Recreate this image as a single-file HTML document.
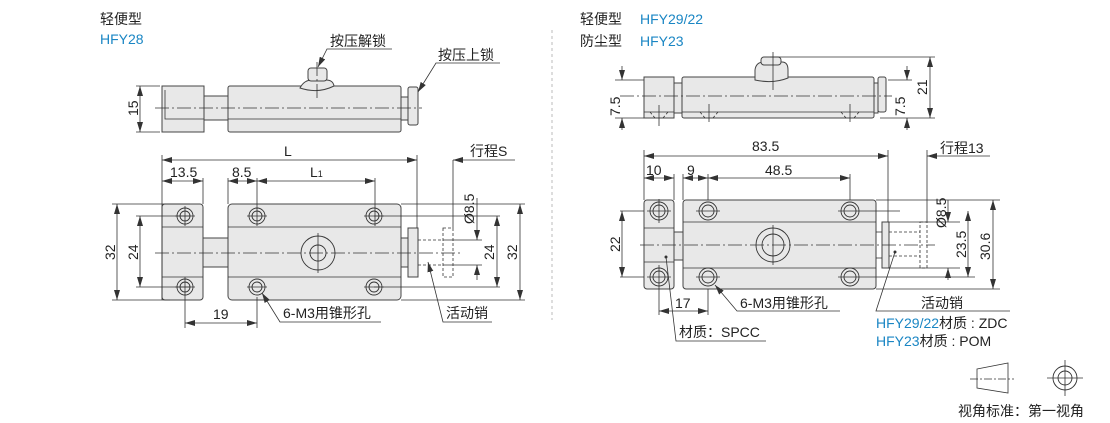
<!DOCTYPE html>
<html><head><meta charset="utf-8"><style>
body{margin:0;background:#fff}
svg{display:block}
text{font-family:"Liberation Sans","Noto Sans CJK SC",sans-serif;font-size:14px;fill:#222}
.b{fill:#1a86c4}
.p{fill:#e8e8e8;stroke:#444;stroke-width:1}
.l{stroke:#333;stroke-width:0.8;fill:none}
.c{stroke:#333;stroke-width:0.8;stroke-dasharray:14 3 2 3;fill:none}
.d{stroke:#333;stroke-width:0.8;stroke-dasharray:3 2;fill:none}
.h{fill:none;stroke:#333;stroke-width:0.9}
</style></head><body>
<svg width="1110" height="423" viewBox="0 0 1110 423">
<defs><marker id="a" viewBox="0 0 10 6" refX="10" refY="3" markerWidth="10" markerHeight="6" orient="auto-start-reverse" markerUnits="userSpaceOnUse"><path d="M0,0L10,3L0,6z" fill="#333"/></marker></defs>

<!-- LEFT -->
<text x="100" y="24">轻便型</text><text x="100" y="44" class="b">HFY28</text>
<!-- top view -->
<rect class="p" x="162" y="86" width="42" height="46"/>
<path class="l" d="M165,90V119H204"/>
<rect class="p" x="204" y="96" width="24" height="24"/>
<rect class="p" x="228" y="86" width="173" height="46" rx="2"/>
<line class="l" x1="228" y1="119" x2="401" y2="119"/>
<path class="p" d="M300,88Q304,80 312,80H326Q333,80 334,86Q318,94 300,88z"/>
<rect class="p" x="308" y="68" width="19" height="13" rx="3"/>
<rect class="p" x="401" y="97" width="7" height="23"/>
<rect class="p" x="408" y="87" width="10" height="38" rx="2"/>
<line class="c" x1="155" y1="108" x2="422" y2="108"/>
<line class="c" x1="317" y1="62" x2="317" y2="98"/>
<line class="l" x1="136" y1="86" x2="160" y2="86"/><line class="l" x1="136" y1="132" x2="160" y2="132"/>
<line class="l" x1="140" y1="86" x2="140" y2="132" marker-start="url(#a)" marker-end="url(#a)"/>
<text transform="translate(138,116) rotate(-90)">15</text>
<text x="330" y="46">按压解锁</text><path class="l" d="M392,49H327L318,67" marker-end="url(#a)"/>
<text x="438" y="60">按压上锁</text><path class="l" d="M500,63H436L418,92" marker-end="url(#a)"/>
<!-- front view -->
<rect class="p" x="162" y="204" width="41" height="96" rx="3"/>
<line class="l" x1="162" y1="227" x2="203" y2="227"/><line class="l" x1="162" y1="277" x2="203" y2="277"/>
<rect class="p" x="203" y="238" width="25" height="29"/>
<rect class="p" x="228" y="204" width="173" height="96" rx="4"/>
<line class="l" x1="228" y1="227" x2="401" y2="227"/><line class="l" x1="228" y1="277" x2="401" y2="277"/>
<rect class="p" x="401" y="238" width="7" height="29"/>
<rect class="p" x="408" y="228" width="10" height="49"/>
<path class="d" d="M418,240H445M418,265H445"/>
<rect class="d" x="443" y="228" width="10" height="49"/>
<g class="h">
<circle cx="185" cy="216" r="8"/><circle cx="185" cy="216" r="5"/>
<circle cx="185" cy="287" r="8"/><circle cx="185" cy="287" r="5"/>
<circle cx="257" cy="216" r="8"/><circle cx="257" cy="216" r="5"/>
<circle cx="257" cy="287" r="8"/><circle cx="257" cy="287" r="5"/>
<circle cx="374" cy="216" r="8"/><circle cx="374" cy="216" r="5"/>
<circle cx="374" cy="287" r="8"/><circle cx="374" cy="287" r="5"/>
<circle cx="318" cy="253" r="17"/><circle cx="318" cy="253" r="8"/>
</g>
<line class="c" x1="155" y1="253" x2="462" y2="253"/>
<path class="l" d="M175,216H195M185,206V226M175,287H195M185,277V297M247,216H267M247,287H267M364,216H384M364,287H384M318,233V273"/>
<!-- dims -->
<path class="l" d="M162,155V300M417,155V228M453,160V228M203,178V204M228,178V204M257,178V226M375,178V226"/>
<line class="l" x1="162" y1="160" x2="417" y2="160" marker-start="url(#a)" marker-end="url(#a)"/>
<text x="284" y="156">L</text>
<line class="l" x1="515" y1="160" x2="453" y2="160" marker-end="url(#a)"/>
<text x="470" y="156">行程S</text>
<line class="l" x1="162" y1="181" x2="203" y2="181" marker-start="url(#a)" marker-end="url(#a)"/><text x="170" y="177">13.5</text>
<line class="l" x1="228" y1="181" x2="257" y2="181" marker-start="url(#a)" marker-end="url(#a)"/><text x="232" y="177">8.5</text>
<line class="l" x1="257" y1="181" x2="375" y2="181" marker-start="url(#a)" marker-end="url(#a)"/><text x="310" y="177">L<tspan font-size="9">1</tspan></text>
<path class="l" d="M112,204H190M112,300H170M136,216H190M136,287H190M401,204H525M401,300H525M374,216H500M374,287H500M445,240H482M445,265H482"/>
<line class="l" x1="117" y1="204" x2="117" y2="300" marker-start="url(#a)" marker-end="url(#a)"/><text transform="translate(115,260) rotate(-90)">32</text>
<line class="l" x1="140" y1="216" x2="140" y2="287" marker-start="url(#a)" marker-end="url(#a)"/><text transform="translate(138,260) rotate(-90)">24</text>
<line class="l" x1="497" y1="216" x2="497" y2="287" marker-start="url(#a)" marker-end="url(#a)"/><text transform="translate(494,260) rotate(-90)">24</text>
<line class="l" x1="520" y1="204" x2="520" y2="300" marker-start="url(#a)" marker-end="url(#a)"/><text transform="translate(517,260) rotate(-90)">32</text>
<line class="l" x1="477" y1="198" x2="477" y2="240" marker-end="url(#a)"/><line class="l" x1="477" y1="280" x2="477" y2="265" marker-end="url(#a)"/>
<text transform="translate(474,224) rotate(-90)">Ø8.5</text>
<path class="l" d="M185,297V328M257,297V328"/>
<line class="l" x1="185" y1="323" x2="257" y2="323" marker-start="url(#a)" marker-end="url(#a)"/><text x="213" y="319">19</text>
<text x="283" y="318">6-M3用锥形孔</text><path class="l" d="M381,322H280L262,293" marker-end="url(#a)"/>
<text x="446" y="318">活动销</text><path class="l" d="M492,322H443L428,262" marker-end="url(#a)"/>

<line x1="552" y1="30" x2="552" y2="320" stroke="#bbb" stroke-dasharray="3 3"/>

<!-- RIGHT -->
<text x="580" y="24">轻便型</text><text x="640" y="24" class="b">HFY29/22</text>
<text x="580" y="46">防尘型</text><text x="640" y="46" class="b">HFY23</text>
<rect class="p" x="644" y="77" width="30" height="41"/>
<line class="l" x1="644" y1="112" x2="674" y2="112"/>
<rect class="p" x="674" y="83" width="8" height="30"/>
<rect class="p" x="682" y="77" width="192" height="41" rx="2"/>
<line class="l" x1="682" y1="112" x2="874" y2="112"/>
<path class="p" d="M755,80V70Q756,62 764,62H782Q788,62 788,70V78Q773,84 755,80z"/>
<rect class="p" x="761" y="57" width="20" height="8" rx="3"/>
<rect class="p" x="874" y="83" width="4" height="30"/>
<rect class="p" x="878" y="77" width="8" height="35" rx="2"/>
<line class="c" x1="620" y1="96" x2="892" y2="96"/>
<path class="l" d="M659,105V126M709,104V122M850,104V122M773,52V90"/>
<path class="d" d="M650,112L655,118M668,112L663,118M700,112L705,118M718,112L713,118M841,112L846,118M859,112L854,118"/>
<path class="l" d="M770,57H935M880,118H935M615,80H644M615,118H644M888,80H912M888,118H912"/>
<line class="l" x1="930" y1="57" x2="930" y2="118" marker-start="url(#a)" marker-end="url(#a)"/><text transform="translate(927,95) rotate(-90)">21</text>
<line class="l" x1="622" y1="66" x2="622" y2="80" marker-end="url(#a)"/><line class="l" x1="622" y1="130" x2="622" y2="118" marker-end="url(#a)"/>
<text transform="translate(620,116) rotate(-90)">7.5</text>
<line class="l" x1="907" y1="66" x2="907" y2="80" marker-end="url(#a)"/><line class="l" x1="907" y1="130" x2="907" y2="118" marker-end="url(#a)"/>
<text transform="translate(905,116) rotate(-90)">7.5</text>
<!-- front -->
<rect class="p" x="644" y="200" width="30" height="89" rx="3"/>
<line class="l" x1="644" y1="228" x2="674" y2="228"/><line class="l" x1="644" y1="262" x2="674" y2="262"/>
<rect class="p" x="674" y="232" width="9" height="28"/>
<rect class="p" x="683" y="200" width="193" height="89" rx="3"/>
<line class="l" x1="683" y1="222" x2="876" y2="222"/><line class="l" x1="683" y1="268" x2="876" y2="268"/>
<rect class="p" x="882" y="222" width="7" height="46"/>
<line class="l" x1="876" y1="232" x2="882" y2="232"/><line class="l" x1="876" y1="258" x2="882" y2="258"/>
<path class="d" d="M889,232H920M889,256H920"/>
<rect class="d" x="920" y="222" width="7" height="46"/>
<g class="h">
<circle cx="659" cy="211" r="9"/><circle cx="659" cy="211" r="6"/>
<circle cx="659" cy="277" r="9"/><circle cx="659" cy="277" r="6"/>
<circle cx="708" cy="211" r="9"/><circle cx="708" cy="211" r="6"/>
<circle cx="708" cy="277" r="9"/><circle cx="708" cy="277" r="6"/>
<circle cx="850" cy="211" r="9"/><circle cx="850" cy="211" r="6"/>
<circle cx="850" cy="277" r="9"/><circle cx="850" cy="277" r="6"/>
<circle cx="773" cy="245" r="17"/><circle cx="773" cy="245" r="11"/>
</g>
<line class="c" x1="640" y1="245" x2="935" y2="245"/>
<path class="l" d="M647,211H671M659,199V223M647,277H671M659,265V289M696,211H720M696,277H720M838,211H900M838,277H975M773,225V265M620,211H644M620,277H644"/>
<path class="l" d="M644,150V200M888,150V222M927,150V222M674,174V200M683,174V200M708,174V200M850,174V200"/>
<line class="l" x1="644" y1="156" x2="888" y2="156" marker-start="url(#a)" marker-end="url(#a)"/><text x="752" y="151">83.5</text>
<line class="l" x1="990" y1="156" x2="927" y2="156" marker-end="url(#a)"/><text x="940" y="153">行程13</text>
<line class="l" x1="644" y1="178" x2="674" y2="178" marker-start="url(#a)" marker-end="url(#a)"/><text x="646" y="175">10</text>
<line class="l" x1="683" y1="178" x2="708" y2="178" marker-start="url(#a)" marker-end="url(#a)"/><text x="687" y="175">9</text>
<line class="l" x1="708" y1="178" x2="850" y2="178" marker-start="url(#a)" marker-end="url(#a)"/><text x="765" y="175">48.5</text>
<path class="l" d="M876,200H1000M876,289H1000M888,222H960M888,268H960"/>
<line class="l" x1="622" y1="211" x2="622" y2="277" marker-start="url(#a)" marker-end="url(#a)"/><text transform="translate(620,252) rotate(-90)">22</text>
<line class="l" x1="948" y1="200" x2="948" y2="222" marker-end="url(#a)"/><line class="l" x1="948" y1="280" x2="948" y2="268" marker-end="url(#a)"/>
<text transform="translate(946,228) rotate(-90)">Ø8.5</text>
<line class="l" x1="968" y1="211" x2="968" y2="277" marker-start="url(#a)" marker-end="url(#a)"/><text transform="translate(966,258) rotate(-90)">23.5</text>
<line class="l" x1="993" y1="200" x2="993" y2="289" marker-start="url(#a)" marker-end="url(#a)"/><text transform="translate(990,260) rotate(-90)">30.6</text>
<path class="l" d="M659,289V315M708,289V315"/>
<line class="l" x1="659" y1="311" x2="708" y2="311" marker-start="url(#a)" marker-end="url(#a)"/><text x="675" y="308">17</text>
<text x="740" y="308">6-M3用锥形孔</text><path class="l" d="M840,311H737L715,285" marker-end="url(#a)"/>
<text x="679" y="337">材质：SPCC</text><path class="l" d="M766,341H676L666,257"/><circle cx="666" cy="257" r="1.5" fill="#333"/>
<text x="921" y="308">活动销</text><path class="l" d="M1010,311H876L895,252"/><circle cx="895" cy="252" r="1.5" fill="#333"/>
<text x="876" y="328" font-size="13"><tspan class="b">HFY29/22</tspan>材质 : ZDC</text>
<text x="876" y="346" font-size="13"><tspan class="b">HFY23</tspan>材质 : POM</text>

<!-- legend -->
<path class="l" d="M977,369L1008,363V393L977,388Z"/>
<line class="c" x1="970" y1="379" x2="1014" y2="379" style="stroke-dasharray:8 2 2 2"/>
<circle class="h" cx="1065" cy="378" r="12"/><circle class="h" cx="1065" cy="378" r="7"/>
<path class="l" d="M1047,378H1083M1065,360V396"/>
<text x="958" y="416">视角标准：第一视角</text>
</svg>
</body></html>
